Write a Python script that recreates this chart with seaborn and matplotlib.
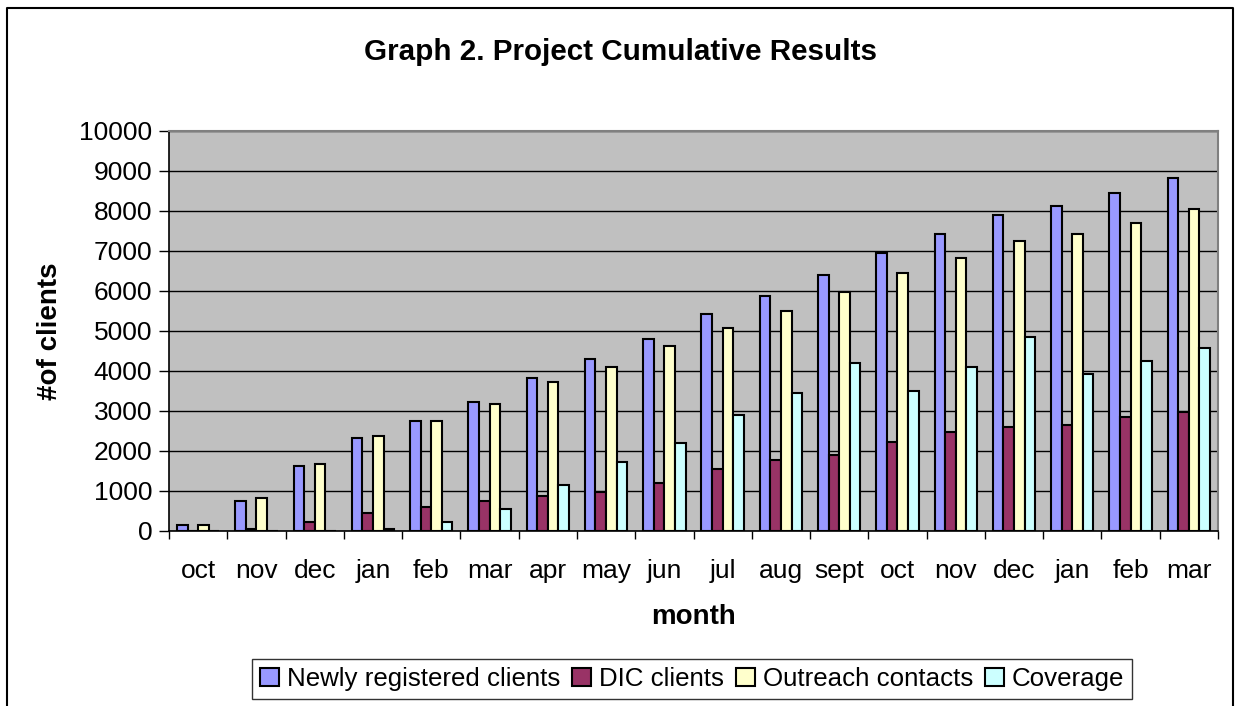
# Dependencies
import pandas as pd
import seaborn as sns
import matplotlib
import matplotlib.pyplot as plt
from matplotlib.patches import Patch
from matplotlib.lines import Line2D

matplotlib.use('Agg')

# Data
months = ["oct", "nov", "dec", "jan", "feb", "mar", "apr", "may", "jun",
          "jul", "aug", "sept", "oct", "nov", "dec", "jan", "feb", "mar"]
series_names = ["Newly registered clients", "DIC clients", "Outreach contacts", "Coverage"]

newly = [140, 745, 1630, 2330, 2750, 3220, 3820, 4290, 4810,
         5420, 5880, 6410, 6960, 7430, 7900, 8130, 8460, 8830]
dic = [0, 40, 225, 460, 595, 745, 880, 970, 1205,
       1540, 1775, 1905, 2235, 2465, 2610, 2660, 2845, 2985]
outreach = [140, 835, 1680, 2385, 2750, 3170, 3730, 4110, 4615,
            5085, 5510, 5970, 6450, 6825, 7245, 7430, 7710, 8040]
coverage = [0, 0, 0, 40, 225, 560, 1160, 1720, 2190,
            2895, 3455, 4190, 3495, 4110, 4850, 3920, 4250, 4575]

colors = ["#9999FF", "#993366", "#FFFFCC", "#CCFFFF"]

# long table for seaborn
rows = []
for name, vals in zip(series_names, [newly, dic, outreach, coverage]):
    for i, v in enumerate(vals):
        rows.append({"pos": i, "series": name, "value": v})
df = pd.DataFrame(rows)

# fig
W, H = 1237, 706
fig = plt.figure(figsize=(W / 100, H / 100), dpi=100)
plt.rcParams['font.family'] = ['Liberation Sans', 'DejaVu Sans']

left, right, top, bottom = 169, 1218, 131, 531
ax = fig.add_axes([left / W, 1 - bottom / H, (right - left) / W, (bottom - top) / H])
ax.set_facecolor("#C0C0C0")
ax.set_axisbelow(True)

sns.barplot(
    data=df, x="pos", y="value", hue="series",
    hue_order=series_names, palette=colors,
    width=4 / 5.5, edgecolor="black", linewidth=1.5,
    saturation=1, legend=False, ax=ax
)

# axes
ax.set_ylim(0, 10000)
ax.set_xlim(-0.5, len(months) - 0.5)
ax.set_yticks(range(0, 10001, 1000))
ax.yaxis.grid(True, color="black", linewidth=1)
ax.xaxis.grid(False)
ax.set_xticks(range(len(months)))
ax.set_xticklabels(months)
ax.set_xticks([i - 0.5 for i in range(len(months) + 1)], minor=True)
ax.tick_params(axis="x", which="major", length=0, labelsize=19, pad=20)
ax.tick_params(axis="x", which="minor", length=6, width=1, direction="out")
ax.tick_params(axis="y", length=7, width=1, direction="out", labelsize=19, pad=5)

for s in ["left", "bottom"]:
    ax.spines[s].set_color("black")
    ax.spines[s].set_linewidth(1.2)
for s in ["top", "right"]:
    ax.spines[s].set_color("#808080")
    ax.spines[s].set_linewidth(1.5)

ax.set_xlabel("month", fontsize=20, fontweight="bold", labelpad=15)
ax.set_ylabel("#of clients", fontsize=20, fontweight="bold", labelpad=12)

# title
fig.text(621 / W, 1 - 52 / H, "Graph 2. Project Cumulative Results",
         ha="center", va="center", fontsize=21.3, fontweight="bold")

# legend
handles = [Patch(facecolor=c, edgecolor="black", linewidth=1.5) for c in colors]
leg = fig.legend(
    handles, series_names, loc="center", bbox_to_anchor=(692 / W, 1 - 679 / H),
    ncol=4, fontsize=18.6, frameon=True, fancybox=False, edgecolor="black",
    handlelength=0.75, handleheight=0.75, handletextpad=0.3, columnspacing=0.45,
    borderpad=0.3, borderaxespad=0
)
leg.get_frame().set_linewidth(1)

# outer chart border (left, top, right)
fig.add_artist(Line2D([7 / W, 7 / W, 1233 / W, 1233 / W],
                      [0, 1 - 8 / H, 1 - 8 / H, 0],
                      transform=fig.transFigure, color="black", linewidth=1.5))

plt.savefig("out.png", dpi=100)
